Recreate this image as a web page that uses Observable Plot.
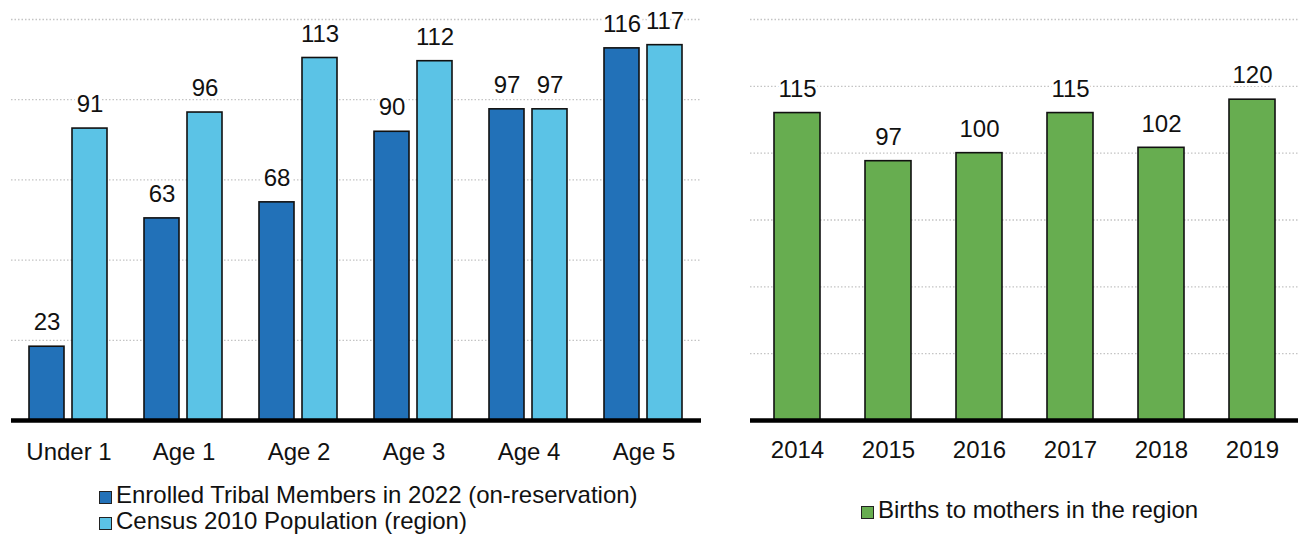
<!DOCTYPE html>
<html>
<head>
<meta charset="utf-8">
<script src="https://cdn.jsdelivr.net/npm/d3@7"></script>
<script src="https://cdn.jsdelivr.net/npm/@observablehq/plot@0.6"></script>
<style>
  html, body { margin: 0; padding: 0; background: #fff; }
  body { width: 1300px; height: 536px; overflow: hidden; font-family: "Liberation Sans", Arial, sans-serif; color: #111; }
  #wrap { display: flex; }
  #left { width: 720px; flex: none; }
  #right { width: 580px; flex: none; }
  .legend { font-size: 24px; line-height: 26px; }
  .item { white-space: nowrap; }
  .sw { display: inline-block; width: 11px; height: 11px; border: 1.5px solid #222; margin-right: 4px; vertical-align: -1px; }
  svg { overflow: visible; }
</style>
</head>
<body>
<div id="wrap">
  <div id="left"><div id="leftChart"></div><div class="legend" id="leftLegend" style="padding-left:99px;padding-top:12px"></div></div>
  <div id="right"><div id="rightChart"></div><div class="legend" id="rightLegend" style="padding-left:141px;padding-top:27px"></div></div>
</div>
<script>
const categories = ["Under 1", "Age 1", "Age 2", "Age 3", "Age 4", "Age 5"];
const enrolled = [23, 63, 68, 90, 97, 116];
const census = [91, 96, 113, 112, 97, 117];
const seriesNames = ["Enrolled Tribal Members in 2022 (on-reservation)", "Census 2010 Population (region)"];
const seriesColors = ["#2271b8", "#5bc3e6"];
const leftGrid = [25, 50, 75, 100, 125];

const years = ["2014", "2015", "2016", "2017", "2018", "2019"];
const births = [115, 97, 100, 115, 102, 120];
const birthsName = "Births to mothers in the region";
const birthsColor = "#67ad50";
const rightGrid = [25, 50, 75, 100, 125, 150];

const font = "'Liberation Sans', Arial, sans-serif";

const table = [];
categories.forEach((c, i) => {
  table.push({cat: c, series: seriesNames[0], value: enrolled[i]});
  table.push({cat: c, series: seriesNames[1], value: census[i]});
});
const birthsTable = years.map((y, i) => ({year: y, value: births[i]}));

const left = Plot.plot({
  width: 720, height: 470,
  marginLeft: 9, marginRight: 17, marginTop: 19, marginBottom: 50,
  style: {fontFamily: font, fontSize: "24px", color: "#111", background: "transparent"},
  fx: {domain: categories, padding: 0, label: null},
  x: {domain: seriesNames, paddingInner: 0.182, paddingOuter: 0.409, axis: null},
  y: {domain: [0, 125], axis: null},
  color: {domain: seriesNames, range: seriesColors},
  marks: [
    Plot.ruleY(leftGrid, {stroke: "#c4c4c4", strokeDasharray: "1.5,2", strokeWidth: 1.3}),
    Plot.barY(table, {fx: "cat", x: "series", y: "value", fill: "series", stroke: "#111", strokeWidth: 1.6}),
    Plot.text(table, {fx: "cat", x: "series", y: "value", text: d => String(d.value), dy: -24, fontSize: 24, fill: "#111", stroke: "white", strokeWidth: 6}),
    Plot.ruleY([0], {stroke: "#000", strokeWidth: 4.5}),
    Plot.axisFx({anchor: "bottom", tickSize: 0, tickPadding: 22, fontSize: 24, label: null})
  ]
});
document.getElementById("leftChart").append(left);

const right = Plot.plot({
  width: 580, height: 470,
  marginLeft: 30, marginRight: 2, marginTop: 19, marginBottom: 50,
  style: {fontFamily: font, fontSize: "24px", color: "#111", background: "transparent"},
  x: {domain: years, paddingInner: 0.5, paddingOuter: 0.25},
  y: {domain: [0, 150], axis: null},
  marks: [
    Plot.ruleY(rightGrid, {stroke: "#c4c4c4", strokeDasharray: "1.5,2", strokeWidth: 1.3}),
    Plot.barY(birthsTable, {x: "year", y: "value", fill: birthsColor, stroke: "#111", strokeWidth: 1.6}),
    Plot.text(birthsTable, {x: "year", y: "value", text: d => String(d.value), dy: -24, fontSize: 24, fill: "#111", stroke: "white", strokeWidth: 6}),
    Plot.ruleY([0], {stroke: "#000", strokeWidth: 4.5}),
    Plot.axisX({anchor: "bottom", tickSize: 0, tickPadding: 20, fontSize: 24, label: null})
  ]
});
document.getElementById("rightChart").append(right);

function legend(el, names, colors) {
  names.forEach((n, i) => {
    const d = document.createElement("div");
    d.className = "item";
    const s = document.createElement("span");
    s.className = "sw";
    s.style.background = colors[i];
    d.append(s, document.createTextNode(n));
    el.append(d);
  });
}
legend(document.getElementById("leftLegend"), seriesNames, seriesColors);
legend(document.getElementById("rightLegend"), [birthsName], [birthsColor]);
</script>
</body>
</html>
